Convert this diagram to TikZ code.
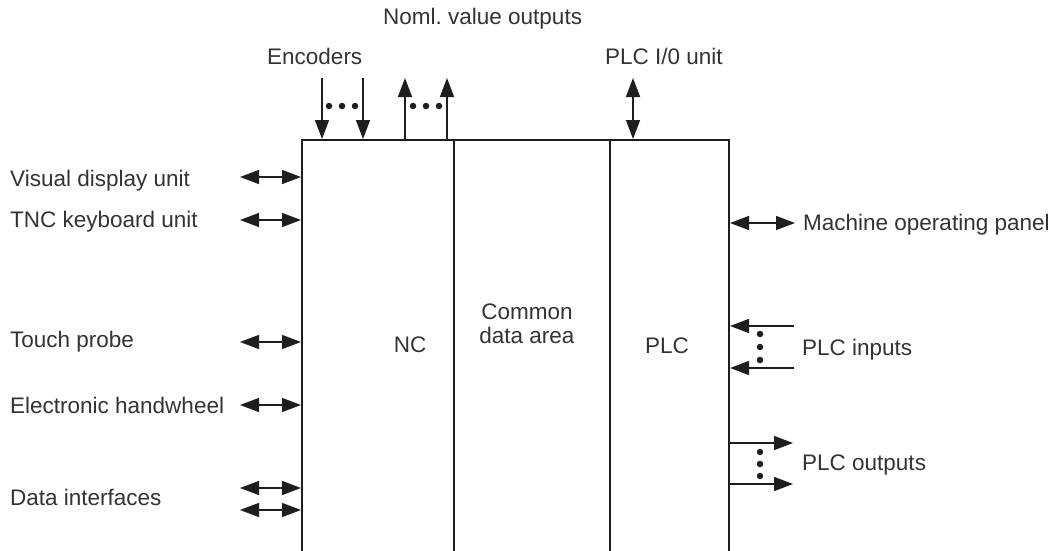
\documentclass[tikz,border=0pt]{standalone}
\usepackage{fontspec}
\setmainfont{Liberation Sans}
\usetikzlibrary{arrows.meta}
\definecolor{ink}{HTML}{1E1E1E}
\definecolor{txt}{HTML}{333333}
\begin{document}
\begin{tikzpicture}[x=1pt,y=-1pt,
  box/.style={line width=2pt,draw=ink},
  conn/.style={line width=1.5pt,draw=ink,-{Triangle[length=19pt,width=14pt]}},
  bconn/.style={line width=1.5pt,draw=ink,{Triangle[length=19pt,width=14pt]}-{Triangle[length=19pt,width=14pt]}},
  lbl/.style={inner sep=0pt,text=txt,font=\fontsize{22.5}{26}\selectfont},
  dot/.style={circle,fill=ink,inner sep=0pt,minimum size=6.5pt}]
\useasboundingbox (0,0) rectangle (1063,551);
% box
\draw[box] (302,551) -- (302,140) -- (729,140) -- (729,551);
\draw[box] (454,140) -- (454,551);
\draw[box] (610,140) -- (610,551);
% box labels
\node[lbl,anchor=base] (nc) at (410,352) {NC};
\node[lbl,anchor=base,align=center] (cda) at (527,343) {Common\\[-2pt]data area};
\node[lbl,anchor=base] (plc) at (667,353) {PLC};
% top labels
\node[lbl,anchor=base west] (noml) at (383,25) {Noml.\ value outputs};
\node[lbl,anchor=base west] (enc) at (267,65) {Encoders};
\node[lbl,anchor=base west] (plcio) at (605,65) {PLC I/0 unit};
% top arrows
\coordinate (e1a) at (322,78); \coordinate (e1b) at (322,139);
\coordinate (e2a) at (363,78); \coordinate (e2b) at (363,139);
\coordinate (n1a) at (405,139); \coordinate (n1b) at (405,78);
\coordinate (n2a) at (447,139); \coordinate (n2b) at (447,78);
\coordinate (pa) at (633,78); \coordinate (pb) at (633,139);
\draw[conn] (e1a) -- (e1b);
\draw[conn] (e2a) -- (e2b);
\draw[conn] (n1a) -- (n1b);
\draw[conn] (n2a) -- (n2b);
\draw[bconn] (pa) -- (pb);
\foreach \x [count=\i] in {329,342,355} \node[dot] (ed\i) at (\x,106) {};
\foreach \x [count=\i] in {413,426,439} \node[dot] (nd\i) at (\x,106) {};
% left labels
\node[lbl,anchor=base west] (vdu) at (10,186) {Visual display unit};
\node[lbl,anchor=base west] (tnc) at (10,227) {TNC keyboard unit};
\node[lbl,anchor=base west] (tp) at (10,347) {Touch probe};
\node[lbl,anchor=base west] (ehw) at (10,413) {Electronic handwheel};
\node[lbl,anchor=base west] (di) at (10,505) {Data interfaces};
% left arrows
\foreach \y/\n in {177/a,220/b,342/c,405/d,488/e,510/f}{
  \coordinate (l\n1) at (240,\y); \coordinate (l\n2) at (301,\y);
  \draw[bconn] (l\n1) -- (l\n2);
}
% right labels
\node[lbl,anchor=base west] (mop) at (803,230) {Machine operating panel};
\node[lbl,anchor=base west] (pin) at (802,355) {PLC inputs};
\node[lbl,anchor=base west] (pout) at (802,470) {PLC outputs};
% right arrows
\coordinate (m1) at (730,223); \coordinate (m2) at (795,223);
\draw[bconn] (m1) -- (m2);
\coordinate (i1a) at (794,326); \coordinate (i1b) at (730,326);
\coordinate (i2a) at (794,368); \coordinate (i2b) at (730,368);
\draw[conn] (i1a) -- (i1b);
\draw[conn] (i2a) -- (i2b);
\coordinate (o1a) at (730,443); \coordinate (o1b) at (793,443);
\coordinate (o2a) at (730,484); \coordinate (o2b) at (793,484);
\draw[conn] (o1a) -- (o1b);
\draw[conn] (o2a) -- (o2b);
\foreach \y [count=\i] in {334,347,360} \node[dot] (id\i) at (760,\y) {};
\foreach \y [count=\i] in {452,464,476} \node[dot] (od\i) at (760,\y) {};
\end{tikzpicture}
\end{document}
